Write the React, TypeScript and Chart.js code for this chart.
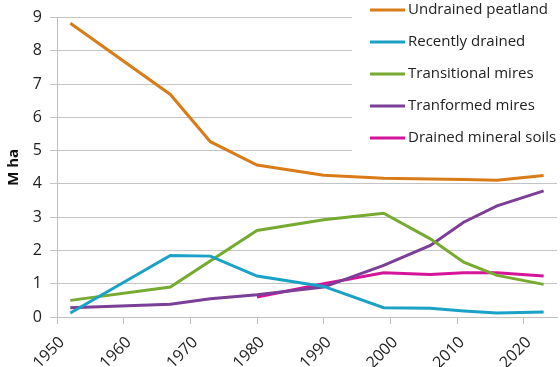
import React, { useEffect, useRef } from 'react';
import { Chart, registerables } from 'chart.js';

Chart.register(...registerables);

const years = [1952, 1967, 1973, 1980, 1990, 1999, 2006, 2011, 2016, 2023];
const undrainedPeatland = [8.83, 6.69, 5.27, 4.57, 4.26, 4.17, 4.15, 4.13, 4.11, 4.25];
const recentlyDrained = [0.12, 1.85, 1.83, 1.23, 0.92, 0.28, 0.26, 0.18, 0.12, 0.15];
const transitionalMires = [0.5, 0.9, null, 2.6, 2.92, 3.12, 2.35, 1.65, 1.25, 0.98];
const tranformedMires = [0.28, 0.38, 0.55, 0.67, 0.9, 1.55, 2.15, 2.85, 3.34, 3.79];
const drainedMineralSoils = [null, null, null, 0.6, 1.0, 1.33, 1.28, 1.33, 1.33, 1.23];

const seriesNames = [
  'Undrained peatland',
  'Recently drained',
  'Transitional mires',
  'Tranformed mires',
  'Drained mineral soils',
];
const seriesColors = ['#D97B16', '#1AA2C6', '#77AA30', '#7B3F98', '#D4159A'];
const seriesValues = [
  undrainedPeatland,
  recentlyDrained,
  transitionalMires,
  tranformedMires,
  drainedMineralSoils,
];

const FONT = '"Open Sans", "DejaVu Sans", sans-serif';

const legendPlugin = {
  id: 'insideLegend',
  beforeDatasetsDraw(chart: any) {
    const ctx = chart.ctx;
    ctx.save();
    ctx.fillStyle = '#ffffff';
    ctx.fillRect(352, 0, 208, 158);
    chart.data.datasets.forEach((ds: any, i: number) => {
      const y = 10 + i * 32;
      ctx.strokeStyle = ds.borderColor;
      ctx.lineWidth = 3;
      ctx.beginPath();
      ctx.moveTo(370, y);
      ctx.lineTo(405, y);
      ctx.stroke();
      ctx.fillStyle = '#222222';
      ctx.font = '15px ' + FONT;
      ctx.textBaseline = 'middle';
      ctx.textAlign = 'left';
      ctx.fillText(ds.label, 408, y);
    });
    ctx.restore();
  },
};

export default function App() {
  const ref = useRef<HTMLCanvasElement | null>(null);
  useEffect(() => {
    if (!ref.current) return;
    const chart = new Chart(ref.current, {
      type: 'line',
      data: {
        datasets: seriesNames.map((name, i) => ({
          label: name,
          data: years.map((yr, j) => ({ x: yr, y: seriesValues[i][j] })),
          borderColor: seriesColors[i],
          backgroundColor: seriesColors[i],
          borderWidth: 3,
          pointRadius: 0,
          tension: 0,
          spanGaps: true,
          fill: false,
        })),
      },
      options: {
        animation: false,
        responsive: false,
        maintainAspectRatio: false,
        layout: { padding: { top: 15, right: 3, left: 0, bottom: 0 } },
        plugins: {
          legend: { display: false },
          tooltip: { enabled: false },
        },
        scales: {
          x: {
            type: 'linear',
            min: 1950,
            max: 2025,
            afterFit: (s: any) => {
              s.height = 50;
            },
            ticks: {
              stepSize: 10,
              includeBounds: false,
              minRotation: 45,
              maxRotation: 45,
              padding: 9,
              labelOffset: 5,
              color: '#222222',
              font: { family: FONT, size: 16 },
              callback: (v: any) => String(v),
            },
            grid: {
              drawOnChartArea: false,
              drawTicks: true,
              tickLength: 7,
              color: '#bfbfbf',
            },
            border: { color: '#bfbfbf' },
          },
          y: {
            min: 0,
            max: 9,
            afterFit: (s: any) => {
              s.width = 57;
            },
            ticks: {
              stepSize: 1,
              padding: 8,
              color: '#222222',
              font: { family: FONT, size: 16 },
            },
            grid: {
              color: '#c4c4c4',
              tickLength: 7,
            },
            border: { color: '#bfbfbf' },
            title: {
              display: true,
              text: 'M ha',
              color: '#111111',
              font: { family: FONT, size: 15, weight: 'bold' },
              padding: { top: 5, bottom: 0 },
            },
          },
        },
      },
      plugins: [legendPlugin],
    });
    return () => chart.destroy();
  }, []);
  return (
    <div style={{ position: 'fixed', left: 0, top: 0, width: 560, height: 367, background: '#fff' }}>
      <canvas ref={ref} width={560} height={367} />
    </div>
  );
}
